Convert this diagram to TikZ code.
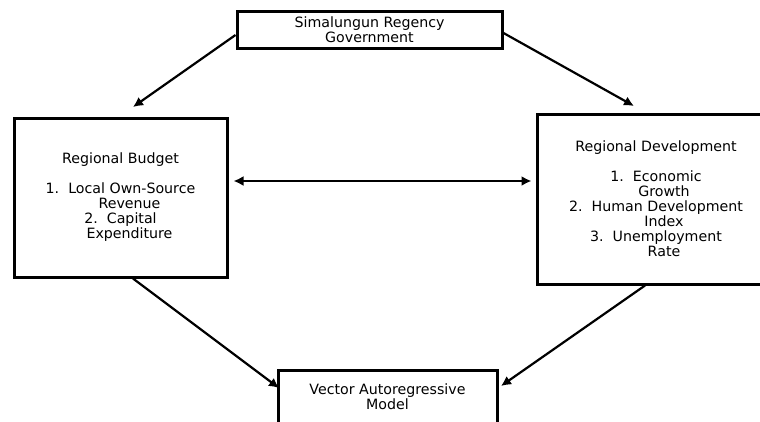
\documentclass[tikz,border=0pt]{standalone}
\usepackage{fontspec}
\setmainfont{DejaVu Sans}
\usetikzlibrary{arrows.meta,calc}
\begin{document}
\begin{tikzpicture}[x=1pt,y=-1pt,
  box/.style={draw=black,line width=3pt,fill=white,align=center,inner sep=0pt,
    font=\fontsize{14.2pt}{15pt}\selectfont,text=black},
  conn/.style={line width=2.2pt,-{Latex[length=10pt,width=10pt]}},
  dconn/.style={line width=2.2pt,{Latex[length=10pt,width=10pt]}-{Latex[length=10pt,width=10pt]}}]
\clip (0,0) rectangle (760,421);
\fill[white] (0,0) rectangle (760,421);
\node[box,minimum width=265pt,minimum height=37pt] (gov) at (369.5,29.5)
  {Simalungun Regency\\Government};
\node[box,minimum width=213pt,minimum height=159pt] (budget) at (120.5,197.5)
  {Regional Budget\\[15pt]1.\ \ Local Own-Source\\\hspace*{18pt}Revenue\\2.\ \ Capital\hspace*{6pt}\\\hspace*{18pt}Expenditure};
\node[box,minimum width=238pt,minimum height=170pt] (dev) at (656,199)
  {Regional Development\\[15pt]1.\ \ Economic\\\hspace*{16pt}Growth\\2.\ \ Human Development\\\hspace*{16pt}Index\\3.\ \ Unemployment\\\hspace*{16pt}Rate};
\node[box,minimum width=219pt,minimum height=54pt] (var) at (387.5,397)
  {Vector Autoregressive\\Model};
\coordinate (t1) at (133,107);
\coordinate (t2) at (634,106);
\draw[conn] ($(gov.west)+(0,5.5)$) -- (t1);
\draw[conn] ($(gov.east)+(0,3.5)$) -- (t2);
\draw[dconn] ($(budget.east)+(5,-16.5)$) -- ($(dev.west)+(-4,-18)$);
\draw[conn] ($(budget.south)+(12.5,0)$) -- ($(var.west)+(2.5,-9)$);
\draw[conn] ($(dev.south)+(-11,0)$) -- ($(var.east)+(2.5,-11)$);
\end{tikzpicture}
\end{document}
